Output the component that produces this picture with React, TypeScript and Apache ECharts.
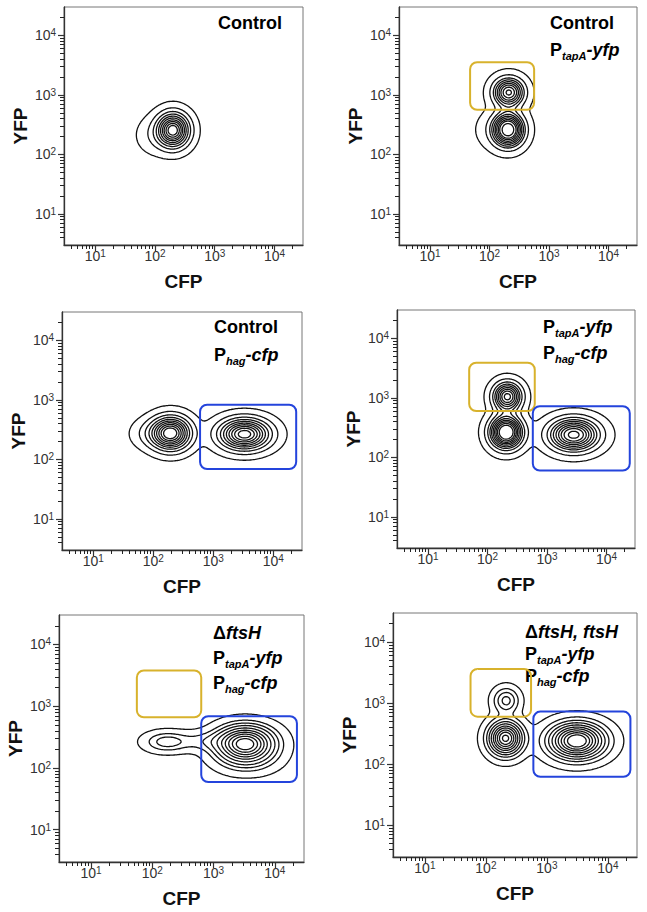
import React, { useEffect, useRef } from 'react';
import * as echarts from 'echarts';

const FONT = "'Liberation Sans', Arial, Helvetica, sans-serif";

// Axis range (both CFP and YFP, log scale)
const AXIS_MIN = 3;
const AXIS_MAX = 30000;
const majorTickValues = [10, 100, 1000, 10000];
const minorTickValues = [4, 5, 6, 7, 8, 9, 20, 30, 40, 50, 60, 70, 80, 90, 200, 300, 400, 500, 600, 700, 800, 900,
  2000, 3000, 4000, 5000, 6000, 7000, 8000, 9000, 20000];

// Probability contour levels: fraction of events outside each contour
const contourLevels = [0.02, 0.1, 0.2, 0.3, 0.4, 0.5, 0.6, 0.7, 0.8, 0.9];

// Populations: [CFP centre, YFP centre, CFP spread (decades), YFP spread (decades), share of events]
const popsControl = [
  [200, 255, 0.16, 0.17, 0.92],
  [100, 210, 0.18, 0.18, 0.08],
];
const popsTapA = [
  [205, 260, 0.16, 0.17, 0.58],
  [210, 1100, 0.16, 0.15, 0.38],
  [110, 260, 0.2, 0.2, 0.04],
];
const popsHag = [
  [195, 275, 0.2, 0.17, 0.44],
  [90, 270, 0.2, 0.15, 0.04],
  [3300, 265, 0.26, 0.16, 0.52],
];
const popsTapAHag = [
  [215, 1050, 0.15, 0.15, 0.2],
  [205, 265, 0.17, 0.17, 0.35],
  [2800, 240, 0.26, 0.17, 0.45],
];
const popsFtsH = [
  [170, 265, 0.22, 0.1, 0.07],
  [700, 270, 0.3, 0.1, 0.05],
  [3300, 250, 0.28, 0.17, 0.78],
  [3500, 140, 0.3, 0.15, 0.1],
];
const popsComp = [
  [215, 1100, 0.13, 0.13, 0.06],
  [210, 265, 0.17, 0.17, 0.32],
  [3100, 240, 0.28, 0.18, 0.62],
];

// Gates: [CFP min, CFP max, YFP min, YFP max]
const goldGate2 = [47, 560, 560, 3550];
const blueGate3 = [600, 24000, 69, 830];
const goldGate4 = [49, 620, 600, 3900];
const blueGate4 = [575, 24500, 60, 725];
const goldGate5 = [56, 630, 660, 3800];
const blueGate5 = [630, 23000, 59, 690];
const goldGate6 = [56, 550, 600, 3630];
const blueGate6 = [600, 23400, 62, 725];

const GOLD = '#d8b22c';
const BLUE = '#2444dc';

const panels = [
  { grid: { left: 64, top: 7, width: 239, height: 238 }, pops: popsControl, gates: [] as any[],
    titleX: 218, titleY: 23, lh: 27, lines: ['{n|Control}'] },
  { grid: { left: 399, top: 7, width: 238, height: 238 }, pops: popsTapA, gates: [[goldGate2, GOLD]],
    titleX: 550, titleY: 23, lh: 27, lines: ['{n|Control}', '{n|P}{s|tapA}{i|-yfp}'] },
  { grid: { left: 62, top: 312, width: 240, height: 238 }, pops: popsHag, gates: [[blueGate3, BLUE]],
    titleX: 214, titleY: 327, lh: 28, lines: ['{n|Control}', '{n|P}{s|hag}{i|-cfp}'] },
  { grid: { left: 397, top: 310, width: 238, height: 238 }, pops: popsTapAHag, gates: [[goldGate4, GOLD], [blueGate4, BLUE]],
    titleX: 543, titleY: 327, lh: 26, lines: ['{n|P}{s|tapA}{i|-yfp}', '{n|P}{s|hag}{i|-cfp}'] },
  { grid: { left: 59, top: 615, width: 245, height: 247 }, pops: popsFtsH, gates: [[goldGate5, GOLD], [blueGate5, BLUE]],
    titleX: 213, titleY: 633, lh: 25, lines: ['{n|Δ}{i|ftsH}', '{n|P}{s|tapA}{i|-yfp}', '{n|P}{s|hag}{i|-cfp}'] },
  { grid: { left: 393, top: 613, width: 244, height: 244 }, pops: popsComp, gates: [[goldGate6, GOLD], [blueGate6, BLUE]],
    titleX: 525, titleY: 632, lh: 22, lines: ['{n|Δ}{i|ftsH, ftsH}', '{n|P}{s|tapA}{i|-yfp}', '{n|P}{s|hag}{i|-cfp}'] },
];

const L = (v: number) => Math.log10(v);

function buildContours(pops: number[][]) {
  const N = 200;
  const lo = L(AXIS_MIN), hi = L(AXIS_MAX);
  const xs: number[] = [], ys: number[] = [];
  for (let i = 0; i <= N; i++) { xs.push(lo + (hi - lo) * i / N); ys.push(lo + (hi - lo) * i / N); }
  const g: number[][] = [];
  const flat: number[] = [];
  for (let j = 0; j <= N; j++) {
    const row: number[] = [];
    for (let i = 0; i <= N; i++) {
      let v = 0;
      for (const p of pops) {
        const dx = (xs[i] - L(p[0])) / p[2];
        const dy = (ys[j] - L(p[1])) / p[3];
        v += (p[4] / (p[2] * p[3])) * Math.exp(-0.5 * (dx * dx + dy * dy));
      }
      row.push(v);
      flat.push(v);
    }
    g.push(row);
  }
  flat.sort((a, b) => b - a);
  const total = flat.reduce((a, b) => a + b, 0);
  const thresholds = contourLevels.map((f) => {
    const target = (1 - f) * total;
    let acc = 0;
    for (let k = 0; k < flat.length; k++) { acc += flat[k]; if (acc >= target) return flat[k]; }
    return flat[flat.length - 1];
  });
  const out: number[][][] = [];
  for (const level of thresholds) {
    const pts: Record<string, number[]> = {};
    const edge = (type: string, i: number, j: number) => {
      const key = type + i + '_' + j;
      if (!pts[key]) {
        if (type === 'h') {
          const a = g[j][i], b = g[j][i + 1];
          const t = (level - a) / (b - a);
          pts[key] = [xs[i] + t * (xs[i + 1] - xs[i]), ys[j]];
        } else {
          const a = g[j][i], b = g[j + 1][i];
          const t = (level - a) / (b - a);
          pts[key] = [xs[i], ys[j] + t * (ys[j + 1] - ys[j])];
        }
      }
      return key;
    };
    const segs: string[][] = [];
    for (let j = 0; j < N; j++) {
      for (let i = 0; i < N; i++) {
        const bl = g[j][i] >= level, br = g[j][i + 1] >= level;
        const tr = g[j + 1][i + 1] >= level, tl = g[j + 1][i] >= level;
        const cross: string[] = [];
        if (bl !== br) cross.push(edge('h', i, j));
        if (br !== tr) cross.push(edge('v', i + 1, j));
        if (tl !== tr) cross.push(edge('h', i, j + 1));
        if (bl !== tl) cross.push(edge('v', i, j));
        if (cross.length === 2) segs.push([cross[0], cross[1]]);
        else if (cross.length === 4) {
          const [bo, ri, to, le] = cross;
          const c = (g[j][i] + g[j][i + 1] + g[j + 1][i + 1] + g[j + 1][i]) / 4 >= level;
          if ((bl && c) || (!bl && !c)) { segs.push([bo, ri]); segs.push([to, le]); }
          else { segs.push([le, bo]); segs.push([ri, to]); }
        }
      }
    }
    const adj: Record<string, number[]> = {};
    segs.forEach((s, k) => { (adj[s[0]] = adj[s[0]] || []).push(k); (adj[s[1]] = adj[s[1]] || []).push(k); });
    const used = new Array(segs.length).fill(false);
    for (let k = 0; k < segs.length; k++) {
      if (used[k]) continue;
      used[k] = true;
      const chain = [segs[k][0], segs[k][1]];
      const extend = (forward: boolean) => {
        while (true) {
          const end = forward ? chain[chain.length - 1] : chain[0];
          const next = (adj[end] || []).find((m) => !used[m]);
          if (next === undefined) break;
          used[next] = true;
          const other = segs[next][0] === end ? segs[next][1] : segs[next][0];
          if (forward) chain.push(other); else chain.unshift(other);
        }
      };
      extend(true);
      extend(false);
      out.push(chain.map((key) => pts[key]));
    }
  }
  return out;
}

export default function App() {
  const ref = useRef<HTMLDivElement>(null);
  useEffect(() => {
    if (!ref.current) return;
    const chart = echarts.init(ref.current, undefined, { renderer: 'svg' });
    const grids: any[] = [];
    const xAxes: any[] = [];
    const yAxes: any[] = [];
    const series: any[] = [];
    const graphics: any[] = [];
    const lo = L(AXIS_MIN), hi = L(AXIS_MAX);
    const majors = majorTickValues.map(L);
    const minors = minorTickValues.map(L);
    const labelRich = {
      b: { fontSize: 14, fontFamily: FONT, color: '#333', lineHeight: 15 },
      s: { fontSize: 10, fontFamily: FONT, color: '#333', lineHeight: 10, verticalAlign: 'top' },
    };
    const labelBase = { fontSize: 14, fontFamily: FONT, color: '#333', lineHeight: 15 };
    const fmt = (v: number) => `{b|10}{s|${Math.round(v)}}`;
    panels.forEach((p, gi) => {
      grids.push({ ...p.grid, show: true, borderColor: '#777', borderWidth: 1, backgroundColor: 'transparent' });
      const common = { gridIndex: gi, type: 'value', min: lo, max: hi, splitLine: { show: false } };
      xAxes.push({
        ...common, position: 'bottom', name: 'CFP', nameLocation: 'middle', nameGap: 27,
        nameTextStyle: { fontFamily: FONT, fontWeight: 'bold', fontSize: 19, color: '#111' },
        axisLine: { show: true, onZero: false, lineStyle: { color: '#333', width: 1.3 } },
        axisTick: { show: true, customValues: majors, length: 6, lineStyle: { color: '#333', width: 1.2 } },
        axisLabel: { show: true, ...labelBase, customValues: majors, formatter: fmt, rich: labelRich, margin: 3 },
      });
      xAxes.push({
        ...common, position: 'bottom',
        axisLine: { show: false, onZero: false },
        axisTick: { show: true, customValues: minors, length: 4, lineStyle: { color: '#222', width: 1 } },
        axisLabel: { show: false },
      });
      yAxes.push({
        ...common, position: 'left', name: 'YFP', nameLocation: 'middle', nameGap: 34,
        nameTextStyle: { fontFamily: FONT, fontWeight: 'bold', fontSize: 19, color: '#111' },
        axisLine: { show: true, onZero: false, lineStyle: { color: '#333', width: 1.3 } },
        axisTick: { show: true, customValues: majors, length: 6, lineStyle: { color: '#333', width: 1.2 } },
        axisLabel: { show: true, ...labelBase, customValues: majors, formatter: fmt, rich: labelRich, margin: 8 },
      });
      yAxes.push({
        ...common, position: 'left',
        axisLine: { show: false, onZero: false },
        axisTick: { show: true, customValues: minors, length: 4, lineStyle: { color: '#222', width: 1 } },
        axisLabel: { show: false },
      });
      const polys = buildContours(p.pops);
      series.push({
        type: 'lines', coordinateSystem: 'cartesian2d', xAxisIndex: gi * 2, yAxisIndex: gi * 2,
        polyline: true, silent: true,
        lineStyle: { color: '#111', width: 1.3, opacity: 1 },
        data: polys.map((c) => ({ coords: c })),
      });
      p.gates.forEach(([gate, color]: any) => {
        series.push({
          type: 'custom', coordinateSystem: 'cartesian2d', xAxisIndex: gi * 2, yAxisIndex: gi * 2, silent: true,
          data: [[L(gate[0]), L(gate[2]), L(gate[1]), L(gate[3])]],
          renderItem: (_params: any, api: any) => {
            const a = api.coord([api.value(0), api.value(3)]);
            const b = api.coord([api.value(2), api.value(1)]);
            return {
              type: 'rect',
              shape: { x: a[0], y: a[1], width: b[0] - a[0], height: b[1] - a[1], r: 7 },
              style: { fill: 'none', stroke: color, lineWidth: 2 },
            };
          },
        });
      });
      p.lines.forEach((line, li) => {
        graphics.push({
          type: 'text', x: p.titleX, y: p.titleY + li * p.lh, silent: true,
          style: {
            text: line, align: 'left', verticalAlign: 'middle',
            rich: {
              n: { fontFamily: FONT, fontWeight: 'bold', fontSize: 18, lineHeight: 22, fill: '#000' },
              i: { fontFamily: FONT, fontWeight: 'bold', fontStyle: 'italic', fontSize: 18, lineHeight: 22, fill: '#000' },
              s: { fontFamily: FONT, fontWeight: 'bold', fontStyle: 'italic', fontSize: 11, lineHeight: 11, verticalAlign: 'bottom', fill: '#000' },
            },
          },
        });
      });
    });
    chart.setOption({
      animation: false,
      backgroundColor: '#fff',
      grid: grids,
      xAxis: xAxes,
      yAxis: yAxes,
      series,
      graphic: graphics,
    });
    return () => chart.dispose();
  }, []);
  return <div ref={ref} style={{ position: 'absolute', left: 0, top: 0, width: 647, height: 912 }} />;
}
